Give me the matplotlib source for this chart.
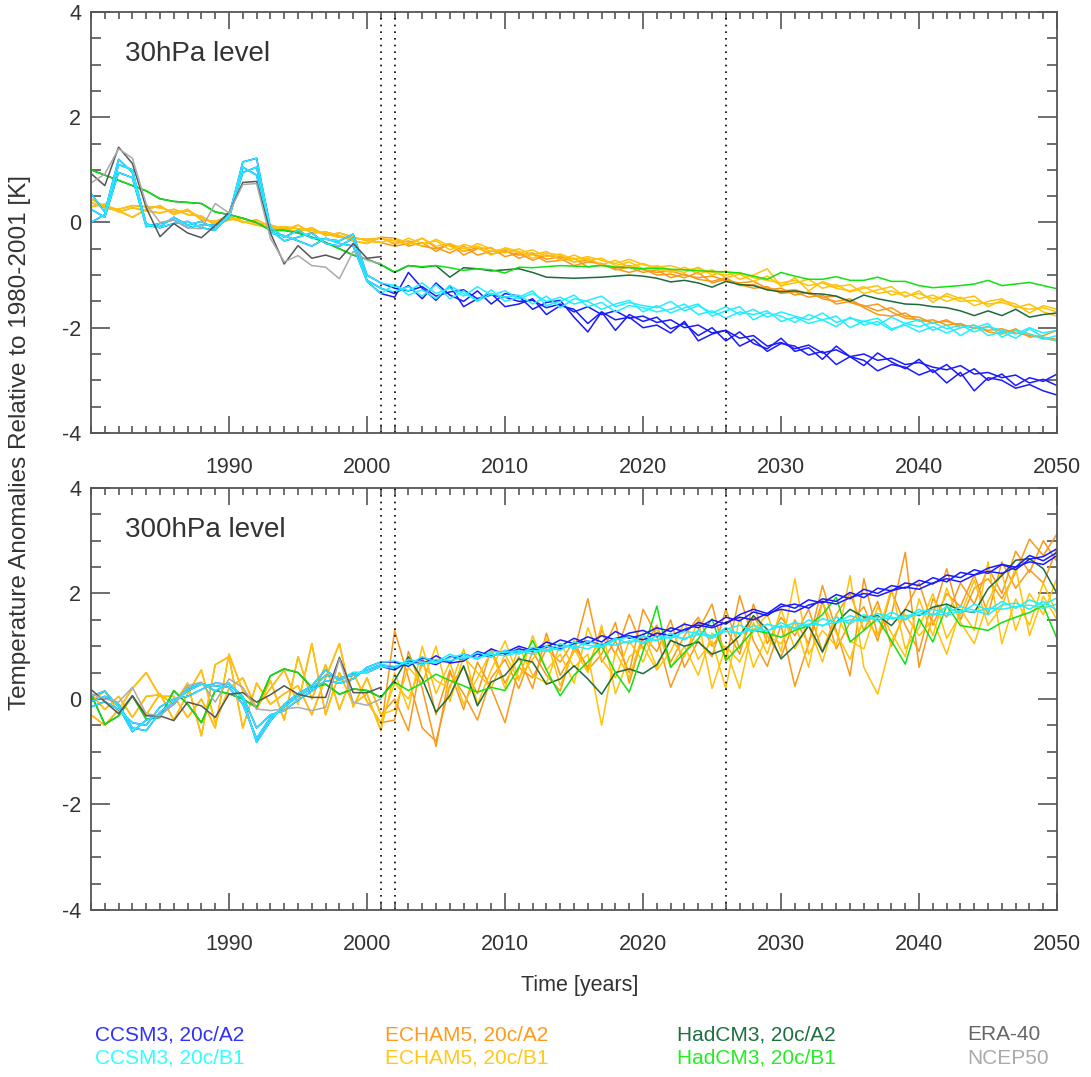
import numpy as np
import matplotlib.pyplot as plt
from matplotlib.ticker import MultipleLocator

plt.rcParams['font.family'] = ['Liberation Sans', 'DejaVu Sans']
plt.rcParams['axes.unicode_minus'] = False

years = np.arange(1980, 2051)      # 1980-2001 = 20c runs, 2002-2050 = scenarios
hist_years = years[:22]

# ---------------- 30 hPa ----------------
era40_30 = [0.93, 0.70, 1.43, 1.12, 0.28, -0.27, -0.02, -0.20, -0.29, -0.06, 0.19, 0.76, 0.78, -0.20, -0.79, -0.44, -0.68, -0.62, -0.70, -0.40, -0.68, -0.65]
ncep50_30 = [0.75, 0.92, 1.40, 1.22, 0.35, 0.00, 0.05, -0.10, -0.12, 0.36, 0.18, 0.72, 0.74, -0.30, -0.75, -0.63, -0.82, -0.85, -1.07, -0.55, -0.72, -0.78]

ccsm_20c_30_1 = [0.55, 0.20, 1.20, 0.95, -0.03, -0.08, 0.10, -0.05, 0.02, -0.12, 0.12, 1.15, 1.22, -0.10, -0.28, -0.15, -0.30, -0.32, -0.35, -0.22, -1.00, -1.15]
ccsm_20c_30_2 = [0.25, 0.10, 0.95, 0.85, -0.08, -0.02, 0.05, -0.10, -0.05, -0.05, 0.08, 0.95, 1.05, -0.15, -0.35, -0.28, -0.20, -0.40, -0.45, -0.30, -1.10, -1.25]
ccsm_20c_30_3 = [0.00, 0.15, 1.10, 1.00, -0.05, -0.10, -0.02, 0.02, -0.10, -0.15, 0.15, 1.05, 0.90, -0.20, -0.25, -0.35, -0.45, -0.30, -0.40, -0.45, -1.12, -1.35]

ccsm_a2_30_1 = [-1.25, -1.30, -1.22, -1.40, -1.32, -1.28, -1.45, -1.38, -1.42,
                -1.50, -1.48, -1.62, -1.55, -1.70, -1.60, -1.75, -1.68, -1.82, -1.78,
                -1.90, -1.85, -2.00, -1.95, -2.10, -2.05, -2.20, -2.15, -2.35, -2.28,
                -2.40, -2.33, -2.48, -2.42, -2.55, -2.50, -2.62, -2.58, -2.70, -2.66,
                -2.75, -2.80, -2.72, -2.88, -2.85, -2.95, -2.90, -3.05, -2.98, -3.10]
ccsm_a2_30_2 = [-1.35, -1.20, -1.45, -1.15, -1.38, -1.50, -1.30, -1.55, -1.35,
                -1.40, -1.65, -1.52, -1.48, -1.80, -2.08, -1.70, -2.05, -1.75, -1.88,
                -1.80, -2.02, -1.92, -2.15, -2.00, -2.25, -2.08, -2.30, -2.40, -2.20,
                -2.45, -2.38, -2.60, -2.35, -2.55, -2.72, -2.48, -2.65, -2.78, -2.60,
                -2.85, -2.70, -2.92, -2.78, -3.00, -2.88, -3.10, -2.95, -3.02, -2.88]
ccsm_a2_30_3 = [-1.42, -0.95, -1.25, -1.48, -1.20, -1.60, -1.45, -1.35, -1.60,
                -1.55, -1.45, -1.75, -1.58, -1.65, -1.92, -1.70, -1.85, -1.80, -2.00,
                -1.95, -2.10, -1.88, -2.25, -2.12, -2.05, -2.35, -2.22, -2.45, -2.30,
                -2.35, -2.52, -2.45, -2.70, -2.55, -2.62, -2.82, -2.70, -2.75, -2.90,
                -2.80, -3.05, -2.85, -3.20, -2.95, -3.00, -3.15, -3.08, -3.20, -3.28]

ccsm_b1_30_1 = [-1.20, -1.30, -1.15, -1.35, -1.25, -1.40, -1.22, -1.38, -1.30,
                -1.45, -1.35, -1.50, -1.42, -1.55, -1.48, -1.40, -1.60, -1.52, -1.58,
                -1.62, -1.50, -1.68, -1.58, -1.72, -1.60, -1.75, -1.65, -1.80, -1.70,
                -1.78, -1.85, -1.72, -1.90, -1.82, -1.88, -1.95, -1.80, -1.92, -1.98,
                -1.90, -2.02, -1.95, -2.08, -1.98, -2.05, -2.12, -2.00, -2.10, -2.05]
ccsm_b1_30_2 = [-1.32, -1.22, -1.40, -1.18, -1.45, -1.30, -1.50, -1.35, -1.42,
                -1.38, -1.55, -1.40, -1.62, -1.45, -1.50, -1.65, -1.55, -1.48, -1.70,
                -1.58, -1.72, -1.62, -1.55, -1.78, -1.68, -1.60, -1.85, -1.72, -1.78,
                -1.90, -1.75, -1.85, -1.98, -1.80, -1.95, -1.88, -2.05, -1.92, -1.85,
                -2.05, -1.95, -2.15, -2.00, -1.92, -2.18, -2.05, -2.12, -2.22, -2.15]
ccsm_b1_30_3 = [-1.18, -1.38, -1.28, -1.45, -1.20, -1.35, -1.48, -1.28, -1.50,
                -1.42, -1.30, -1.58, -1.50, -1.38, -1.60, -1.52, -1.70, -1.58, -1.62,
                -1.70, -1.65, -1.55, -1.75, -1.68, -1.82, -1.70, -1.75, -1.68, -1.88,
                -1.80, -1.92, -1.85, -1.78, -2.00, -1.88, -1.82, -2.02, -1.95, -2.08,
                -1.98, -2.10, -2.00, -1.95, -2.15, -2.08, -2.20, -2.02, -2.18, -2.25]

echam_20c_30_1 = [0.45, 0.30, 0.25, 0.32, 0.30, 0.28, 0.20, 0.22, 0.10, -0.02, 0.08, 0.02, -0.05, -0.10, -0.08, -0.12, -0.15, -0.22, -0.28, -0.30, -0.32, -0.30]
echam_20c_30_2 = [0.38, 0.28, 0.22, 0.10, 0.25, 0.32, 0.15, 0.25, 0.05, 0.02, 0.12, 0.00, 0.05, -0.08, -0.15, -0.05, -0.20, -0.18, -0.25, -0.35, -0.40, -0.28]
echam_20c_30_3 = [0.30, 0.35, 0.20, 0.28, 0.22, 0.18, 0.25, 0.15, 0.12, -0.05, 0.05, 0.08, -0.02, -0.05, -0.12, -0.18, -0.10, -0.25, -0.20, -0.28, -0.35, -0.38]

echam_a2_30_1 = [-0.40, -0.35, -0.45, -0.50, -0.42, -0.55, -0.48, -0.60, -0.55,
                 -0.62, -0.58, -0.70, -0.65, -0.75, -0.72, -0.80, -0.85, -0.82, -0.90,
                 -0.95, -0.92, -1.00, -1.05, -1.02, -1.10, -1.15, -1.12, -1.25, -1.30,
                 -1.28, -1.35, -1.42, -1.40, -1.52, -1.60, -1.55, -1.70, -1.82, -1.85,
                 -1.90, -1.88, -1.95, -2.00, -2.05, -2.02, -2.10, -2.15, -2.18, -2.22]
echam_a2_30_2 = [-0.30, -0.45, -0.38, -0.55, -0.40, -0.62, -0.50, -0.48, -0.65,
                 -0.58, -0.72, -0.62, -0.68, -0.82, -0.75, -0.78, -0.90, -0.85, -0.95,
                 -0.90, -1.05, -0.98, -1.08, -1.12, -1.05, -1.20, -1.18, -1.28, -1.25,
                 -1.38, -1.32, -1.45, -1.50, -1.45, -1.62, -1.75, -1.78, -1.72, -1.88,
                 -1.85, -1.95, -1.92, -2.02, -1.98, -2.08, -2.05, -2.12, -2.20, -2.25]
echam_a2_30_3 = [-0.45, -0.40, -0.30, -0.48, -0.58, -0.45, -0.62, -0.55, -0.52,
                 -0.68, -0.60, -0.75, -0.72, -0.68, -0.85, -0.80, -0.88, -0.95, -0.88,
                 -1.00, -0.98, -1.05, -0.95, -1.15, -1.08, -1.18, -1.25, -1.22, -1.35,
                 -1.32, -1.42, -1.38, -1.55, -1.50, -1.58, -1.68, -1.62, -1.78, -1.80,
                 -1.92, -1.85, -2.00, -1.95, -2.08, -2.12, -2.02, -2.18, -2.15, -2.05]

echam_b1_30_1 = [-0.35, -0.42, -0.30, -0.45, -0.40, -0.50, -0.45, -0.55, -0.50,
                 -0.58, -0.52, -0.65, -0.60, -0.70, -0.65, -0.72, -0.78, -0.70, -0.80,
                 -0.85, -0.82, -0.90, -0.88, -0.95, -1.00, -0.95, -1.05, -1.10, -1.15,
                 -1.10, -1.20, -1.15, -1.25, -1.30, -1.22, -1.35, -1.30, -1.40, -1.35,
                 -1.45, -1.40, -1.50, -1.48, -1.55, -1.52, -1.60, -1.65, -1.62, -1.70]
echam_b1_30_2 = [-0.42, -0.30, -0.40, -0.35, -0.52, -0.42, -0.48, -0.62, -0.48,
                 -0.55, -0.68, -0.58, -0.62, -0.75, -0.68, -0.80, -0.72, -0.85, -0.78,
                 -0.88, -0.95, -0.85, -0.98, -0.90, -1.05, -0.98, -1.12, -1.02, -1.20,
                 -1.15, -1.08, -1.25, -1.18, -1.32, -1.25, -1.20, -1.38, -1.32, -1.45,
                 -1.38, -1.50, -1.42, -1.58, -1.50, -1.45, -1.62, -1.55, -1.70, -1.78]
echam_b1_30_3 = [-0.30, -0.38, -0.45, -0.32, -0.45, -0.55, -0.40, -0.50, -0.58,
                 -0.50, -0.62, -0.55, -0.72, -0.62, -0.72, -0.68, -0.82, -0.75, -0.88,
                 -0.82, -0.90, -0.95, -0.85, -1.00, -0.92, -1.08, -1.00, -0.88, -1.22,
                 -1.05, -1.30, -1.12, -1.22, -1.18, -1.35, -1.28, -1.22, -1.42, -1.30,
                 -1.52, -1.35, -1.45, -1.40, -1.60, -1.48, -1.55, -1.72, -1.58, -1.65]

hadcm3_20c_30 = [1.00, 0.90, 0.80, 0.70, 0.60, 0.45, 0.40, 0.38, 0.36, 0.20, 0.15, 0.08, 0.00, -0.15, -0.15, -0.20, -0.28, -0.38, -0.50, -0.62, -0.70, -0.80]
hadcm3_a2_30 = [-0.95, -0.82, -0.85, -0.82, -1.04, -0.86, -0.88, -0.92, -0.90,
                -0.88, -0.95, -1.04, -1.05, -1.06, -1.05, -1.04, -1.02, -1.00, -1.02,
                -1.06, -1.13, -1.10, -1.15, -1.23, -1.12, -1.18, -1.20, -1.28, -1.32,
                -1.30, -1.35, -1.36, -1.40, -1.50, -1.38, -1.45, -1.50, -1.55, -1.56,
                -1.60, -1.62, -1.68, -1.77, -1.68, -1.77, -1.65, -1.80, -1.75, -1.72]
hadcm3_b1_30 = [-0.94, -0.82, -0.84, -0.82, -0.86, -0.91, -0.88, -0.90, -0.96,
                -0.85, -0.86, -0.84, -0.82, -0.83, -0.84, -0.82, -0.85, -0.86, -0.88,
                -0.87, -0.89, -0.90, -0.92, -0.93, -0.94, -0.96, -1.02, -1.08, -0.95,
                -1.02, -1.08, -1.08, -1.03, -1.10, -1.10, -1.04, -1.12, -1.12, -1.20,
                -1.24, -1.22, -1.20, -1.17, -1.10, -1.20, -1.17, -1.14, -1.20, -1.26]

# ---------------- 300 hPa ----------------
era40_300 = [0.18, -0.05, -0.28, 0.06, -0.32, -0.32, -0.41, -0.06, -0.13, -0.35, 0.09, 0.12, -0.06, 0.08, 0.25, 0.09, 0.03, 0.03, 0.79, 0.12, 0.12, 0.22]
ncep50_300 = [0.10, 0.00, -0.06, 0.22, -0.28, -0.32, -0.09, 0.25, 0.32, -0.06, 0.38, 0.22, -0.19, -0.22, -0.19, -0.16, -0.22, -0.16, 0.76, -0.06, -0.12, 0.00]

ccsm_20c_300_1 = [-0.05, 0.05, -0.10, -0.55, -0.60, -0.25, -0.05, 0.15, 0.28, 0.25, 0.22, -0.10, -0.75, -0.35, -0.15, 0.05, 0.20, 0.45, 0.40, 0.45, 0.55, 0.65]
ccsm_20c_300_2 = [-0.15, -0.05, -0.20, -0.45, -0.50, -0.15, 0.00, 0.05, 0.18, 0.30, 0.28, 0.05, -0.55, -0.30, -0.22, -0.02, 0.15, 0.35, 0.30, 0.38, 0.60, 0.70]
ccsm_20c_300_3 = [0.05, 0.15, -0.15, -0.62, -0.40, -0.30, -0.10, 0.20, 0.30, 0.15, 0.30, 0.00, -0.82, -0.42, -0.10, 0.10, 0.25, 0.55, 0.35, 0.50, 0.50, 0.62]

ccsm_a2_300_1 = [0.60, 0.68, 0.72, 0.65, 0.80, 0.75, 0.85, 0.80, 0.92,
                 0.88, 0.95, 1.00, 0.95, 1.05, 1.10, 1.02, 1.15, 1.20, 1.12,
                 1.25, 1.20, 1.32, 1.40, 1.35, 1.45, 1.55, 1.50, 1.62, 1.70,
                 1.65, 1.78, 1.85, 1.80, 1.92, 2.00, 1.95, 2.05, 2.12, 2.08,
                 2.20, 2.28, 2.22, 2.35, 2.42, 2.38, 2.50, 2.60, 2.55, 2.72]
ccsm_a2_300_2 = [0.70, 0.62, 0.78, 0.72, 0.70, 0.85, 0.78, 0.95, 0.85,
                 0.95, 0.90, 1.08, 1.00, 1.15, 1.05, 1.20, 1.12, 1.25, 1.30,
                 1.18, 1.35, 1.28, 1.45, 1.38, 1.55, 1.48, 1.65, 1.58, 1.75,
                 1.80, 1.72, 1.90, 1.85, 2.02, 1.92, 2.10, 2.05, 2.20, 2.15,
                 2.30, 2.22, 2.40, 2.35, 2.48, 2.55, 2.45, 2.65, 2.70, 2.85]
ccsm_a2_300_3 = [0.55, 0.72, 0.65, 0.82, 0.68, 0.72, 0.90, 0.82, 0.88,
                 1.00, 0.92, 0.98, 1.12, 1.05, 1.18, 1.08, 1.28, 1.15, 1.22,
                 1.35, 1.28, 1.42, 1.35, 1.50, 1.42, 1.60, 1.70, 1.62, 1.80,
                 1.72, 1.88, 1.82, 1.98, 1.90, 2.08, 2.00, 2.15, 2.10, 2.25,
                 2.18, 2.35, 2.30, 2.45, 2.38, 2.55, 2.50, 2.72, 2.62, 2.78]

ccsm_b1_300_1 = [0.62, 0.70, 0.65, 0.75, 0.72, 0.80, 0.78, 0.85, 0.82,
                 0.88, 0.92, 0.90, 0.98, 1.00, 0.95, 1.05, 1.02, 1.10, 1.08,
                 1.12, 1.18, 1.15, 1.22, 1.20, 1.28, 1.25, 1.32, 1.30, 1.38,
                 1.35, 1.42, 1.40, 1.45, 1.50, 1.48, 1.55, 1.52, 1.58, 1.60,
                 1.62, 1.58, 1.68, 1.65, 1.72, 1.70, 1.75, 1.78, 1.72, 1.80]
ccsm_b1_300_2 = [0.72, 0.65, 0.80, 0.70, 0.85, 0.75, 0.88, 0.80, 0.92,
                 0.85, 0.98, 0.92, 1.05, 0.95, 1.10, 1.00, 1.15, 1.05, 1.20,
                 1.10, 1.25, 1.12, 1.30, 1.18, 1.35, 1.22, 1.40, 1.28, 1.45,
                 1.32, 1.50, 1.38, 1.55, 1.42, 1.60, 1.48, 1.65, 1.52, 1.70,
                 1.58, 1.75, 1.62, 1.80, 1.68, 1.85, 1.72, 1.88, 1.78, 1.92]
ccsm_b1_300_3 = [0.58, 0.75, 0.70, 0.68, 0.78, 0.85, 0.75, 0.90, 0.88,
                 0.92, 0.85, 1.00, 0.92, 1.08, 1.02, 0.98, 1.12, 1.18, 1.05,
                 1.20, 1.15, 1.28, 1.25, 1.15, 1.32, 1.40, 1.28, 1.42, 1.35,
                 1.45, 1.38, 1.52, 1.45, 1.58, 1.50, 1.62, 1.55, 1.50, 1.65,
                 1.70, 1.62, 1.75, 1.68, 1.60, 1.78, 1.82, 1.70, 1.85, 1.68]

echam_20c_300_1 = [-0.30, -0.50, -0.20, 0.20, 0.50, 0.05, 0.05, -0.35, 0.00, -0.55, 0.85, 0.15, -0.15, 0.20, 0.55, -0.10, 1.05, -0.30, 0.50, -0.10, 0.10, -0.60]
echam_20c_300_2 = [0.10, -0.20, 0.05, -0.35, 0.05, 0.08, -0.10, 0.30, -0.70, 0.65, 0.80, -0.55, 0.30, -0.10, 0.10, 0.25, -0.30, 0.40, 1.05, -0.15, 0.40, -0.30]
echam_20c_300_3 = [-0.05, 0.15, -0.25, 0.05, -0.30, 0.10, -0.40, 0.10, 0.55, -0.45, 0.20, 0.40, -0.20, 0.35, -0.40, 0.80, 0.00, 0.65, -0.20, 0.50, -0.05, -0.45]

echam_a2_300_1 = [1.30, 0.40, -0.55, -0.80, 0.25, 0.60, 0.10, 0.95, 0.30,
                  0.80, 0.20, 1.25, 0.45, 0.90, 1.90, 0.70, 1.10, 0.50, 1.70,
                  1.20, 0.22, 0.85, 1.30, 1.80, 0.73, 1.96, 1.10, 0.62, 1.40,
                  0.24, 1.05, 2.15, 1.30, 0.44, 2.28, 1.20, 1.60, 2.78, 0.60,
                  1.60, 2.47, 1.50, 2.10, 2.28, 1.90, 2.40, 3.03, 2.72, 3.13]
echam_a2_300_2 = [0.00, -0.60, 0.80, -0.30, 0.55, -0.20, 0.70, 0.20, -0.45,
                  0.60, 0.40, 0.95, 0.70, 1.10, 0.55, 0.85, 1.45, 0.30, 1.20,
                  0.90, 1.50, 0.60, 1.10, 0.80, 1.70, 0.95, 1.55, 1.20, 0.80,
                  1.50, 1.05, 1.85, 0.95, 1.45, 1.75, 1.10, 2.05, 1.40, 0.90,
                  1.90, 1.55, 2.20, 1.80, 2.50, 2.00, 2.80, 2.40, 3.00, 2.60]
echam_a2_300_3 = [-0.40, 0.90, 0.20, -0.90, 0.50, 0.10, -0.40, 0.40, 0.75,
                  0.20, 0.90, 0.45, 0.15, 1.00, 0.60, 1.30, 0.85, 1.60, 0.95,
                  1.40, 0.70, 1.20, 1.55, 1.00, 1.35, 0.85, 1.80, 1.05, 1.55,
                  1.20, 1.70, 0.90, 1.60, 2.00, 1.30, 1.85, 1.00, 1.70, 2.20,
                  1.40, 2.00, 1.75, 2.35, 1.60, 2.60, 2.10, 2.45, 2.20, 2.85]

echam_b1_300_1 = [0.50, -0.20, 1.00, 0.10, 0.70, -0.10, 0.40, 0.90, 0.20,
                  1.00, 0.45, 0.30, 1.05, 0.60, 0.85, -0.50, 0.90, 0.40, 1.25,
                  0.60, 1.15, 0.80, 1.50, 0.20, 1.00, 0.70, 1.30, 1.60, 0.90,
                  2.28, 0.85, 1.30, 1.00, 2.34, 0.60, 0.09, 1.10, 1.60, 1.20,
                  1.50, 0.85, 1.70, 1.30, 2.60, 1.05, 1.90, 1.40, 2.20, 1.60]
echam_b1_300_2 = [-0.20, 0.60, 0.30, 1.00, -0.05, 0.80, 0.50, 0.20, 0.85,
                  0.35, 1.20, 0.55, 0.85, 0.30, 1.35, 0.75, 0.40, 1.10, 0.70,
                  1.35, 0.60, 1.00, 0.45, 1.25, 0.95, 0.20, 1.45, 0.85, 1.70,
                  0.95, 1.40, 0.70, 1.60, 1.10, 0.95, 1.75, 1.25, 0.80, 1.90,
                  1.20, 2.10, 1.45, 1.05, 1.85, 2.40, 1.30, 2.00, 1.60, 2.30]
echam_b1_300_3 = [0.30, 0.00, 0.65, 0.35, 0.20, 0.95, -0.10, 0.55, 1.10,
                  0.40, 0.75, 1.15, 0.25, 0.95, 0.50, 1.40, 0.10, 0.80, 1.00,
                  0.55, 0.90, 1.45, 0.75, 1.10, 0.20, 1.55, 0.60, 1.20, 1.05,
                  1.45, 0.60, 1.85, 1.25, 0.75, 1.55, 1.20, 2.10, 0.95, 1.35,
                  2.00, 1.15, 1.60, 2.25, 1.40, 1.75, 2.50, 1.20, 1.95, 1.50]

hadcm3_20c_300 = [0.09, -0.48, -0.32, 0.06, -0.38, -0.35, 0.16, -0.10, -0.45, 0.16, 0.10, 0.00, -0.16, 0.44, 0.57, 0.50, 0.22, 0.28, 0.09, 0.19, 0.16, 0.03]
hadcm3_a2_300 = [0.35, 0.80, 0.38, -0.25, 0.06, 0.63, -0.13, 0.32, 0.45,
                 0.76, 0.70, 0.28, 0.38, 0.63, 0.38, 0.09, 0.50, 0.57, 0.48,
                 0.65, 1.11, 1.00, 1.08, 0.85, 0.95, 1.20, 1.58, 1.32, 0.76,
                 1.01, 1.39, 0.89, 1.45, 1.70, 1.55, 1.58, 1.39, 1.70, 1.58,
                 1.74, 1.80, 1.68, 1.64, 2.09, 2.34, 2.63, 2.66, 2.47, 2.00]
hadcm3_b1_300 = [0.32, 0.16, 0.30, 0.47, 0.35, 0.25, 0.13, 0.22, 0.16,
                 0.60, 1.11, 0.55, 0.06, 0.45, 0.70, 1.01, 0.50, 0.13, 0.90,
                 1.76, 0.60, 0.88, 1.14, 1.52, 0.73, 1.00, 1.30, 1.25, 1.17,
                 1.30, 1.39, 1.60, 1.93, 1.08, 1.30, 1.52, 1.10, 0.66, 1.52,
                 1.08, 1.77, 1.39, 1.35, 1.30, 1.45, 1.55, 1.64, 1.77, 1.14]

# colours
c_ccsm_a2, c_ccsm_b1 = '#1a1aff', '#22eeff'
c_echam_a2, c_echam_b1 = '#f7991a', '#ffc20a'
c_had_a2, c_had_b1 = '#1c6b3a', '#11e011'
c_era, c_ncep = '#555555', '#aaaaaa'
frame = '#555555'
txt = '#333333'


def draw_panel(ax, level, label):
    d = globals()
    ccsm_hist = [d[f'ccsm_20c_{level}_{i}'] for i in (1, 2, 3)]
    echam_hist = [d[f'echam_20c_{level}_{i}'] for i in (1, 2, 3)]
    runs = []
    for i in (1, 2, 3):
        runs.append((echam_hist[i - 1], d[f'echam_a2_{level}_{i}'], c_echam_a2))
    for i in (1, 2, 3):
        runs.append((echam_hist[i - 1], d[f'echam_b1_{level}_{i}'], c_echam_b1))
    runs.append((d[f'hadcm3_20c_{level}'], d[f'hadcm3_a2_{level}'], c_had_a2))
    runs.append((d[f'hadcm3_20c_{level}'], d[f'hadcm3_b1_{level}'], c_had_b1))
    for i in (1, 2, 3):
        runs.append((ccsm_hist[i - 1], d[f'ccsm_a2_{level}_{i}'], c_ccsm_a2))
    for i in (1, 2, 3):
        runs.append((ccsm_hist[i - 1], d[f'ccsm_b1_{level}_{i}'], c_ccsm_b1))
    for hist, fut, col in runs:
        ax.plot(years, np.r_[hist, fut], color=col, lw=1.1)
    ax.plot(hist_years, d[f'era40_{level}'], color=c_era, lw=1.1)
    ax.plot(hist_years, d[f'ncep50_{level}'], color=c_ncep, lw=1.1)

    for yr in (2001, 2002, 2026):
        ax.axvline(yr, color='black', lw=1.2, ls=(0, (1, 3)))

    ax.set_xlim(1980, 2050)
    ax.set_ylim(-4, 4)
    ax.set_xticks(range(1990, 2051, 10))
    ax.xaxis.set_minor_locator(MultipleLocator(1))
    ax.set_yticks([-4, -2, 0, 2, 4])
    ax.yaxis.set_minor_locator(MultipleLocator(0.5))
    ax.tick_params(which='both', direction='in', top=True, right=True,
                   color=frame, width=1.2, labelcolor=txt, labelsize=15.5)
    ax.tick_params(axis='x', which='major', length=12, pad=17)
    ax.tick_params(axis='x', which='minor', length=5)
    ax.tick_params(axis='y', which='major', length=14, pad=7)
    ax.tick_params(axis='y', which='minor', length=7)
    for s in ax.spines.values():
        s.set_color(frame)
        s.set_linewidth(1.3)
    ax.text(0.035, 0.90, label, transform=ax.transAxes, fontsize=20,
            color=txt, va='center', ha='left')


fig = plt.figure(figsize=(10.91, 10.77), dpi=100)
ax1 = fig.add_axes([0.0834, 0.5980, 0.8855, 0.3909])
ax2 = fig.add_axes([0.0834, 0.1551, 0.8855, 0.3918])
draw_panel(ax1, 30, '30hPa level')
draw_panel(ax2, 300, '300hPa level')

fig.text(0.018, 0.5896, 'Temperature Anomalies Relative to 1980-2001 [K]',
         rotation=90, va='center', ha='center', fontsize=17.5, color=txt)
fig.text(0.5316, 0.0854, 'Time [years]', va='center', ha='center',
         fontsize=15.5, color=txt)

legend_items = [
    (95, 1035, 'CCSM3, 20c/A2', '#3030ff'), (95, 1058, 'CCSM3, 20c/B1', '#33ffff'),
    (385, 1035, 'ECHAM5, 20c/A2', '#ff9a1f'), (385, 1058, 'ECHAM5, 20c/B1', '#ffc81a'),
    (677, 1035, 'HadCM3, 20c/A2', '#1f7040'), (677, 1058, 'HadCM3, 20c/B1', '#22ee22'),
    (967, 1035, 'ERA-40', '#666666'), (967, 1058, 'NCEP50', '#aaaaaa'),
]
for px, py, name, col in legend_items:
    fig.text(px / 1091, 1 - py / 1077, name, color=col, fontsize=15,
             va='center', ha='left')

fig.savefig('out.png', dpi=100)
